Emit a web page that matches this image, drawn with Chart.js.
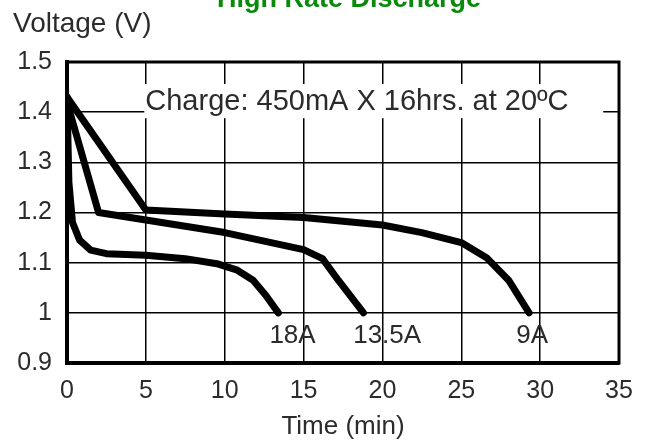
<!DOCTYPE html>
<html>
<head>
<meta charset="utf-8">
<script src="https://cdn.jsdelivr.net/npm/chart.js@4.4.1/dist/chart.umd.min.js"></script>
<style>
html, body { margin: 0; padding: 0; background: #fff; }
#wrap { width: 650px; height: 445px; position: relative; }
</style>
</head>
<body>
<div id="wrap"><canvas id="dischargeChart"></canvas></div>
<script>
// discharge curves (time in min, voltage in V)
const time18 = [0, 0.12, 0.35, 0.8, 1.5, 2.5, 5, 7.5, 9.5, 10.8, 11.8, 12.6, 13.4];
const volt18 = [1.43, 1.26, 1.18, 1.145, 1.125, 1.118, 1.115, 1.108, 1.098, 1.085, 1.065, 1.035, 1.0];
const time135 = [0, 1, 2, 5, 10, 15, 16.2, 17.2, 18.8];
const volt135 = [1.42, 1.31, 1.2, 1.185, 1.16, 1.126, 1.108, 1.065, 1.0];
const time9 = [0, 5, 10, 15, 20, 22.5, 25, 26.6, 28, 29.3];
const volt9 = [1.43, 1.205, 1.197, 1.19, 1.175, 1.16, 1.14, 1.11, 1.065, 1.0];

const xTicks = [0, 5, 10, 15, 20, 25, 30, 35];
const yTicks = [0.9, 1, 1.1, 1.2, 1.3, 1.4, 1.5];

const curveNames = ['18A', '13.5A', '9A'];
const nameTimes = [14.3, 20.3, 29.5];
const nameVolt = 0.954;

const chartTitle = 'High Rate Discharge';
const yTitle = 'Voltage (V)';
const xTitle = 'Time (min)';
const note = 'Charge: 450mA X 16hrs. at 20\u00BAC';

const FONT = '"Liberation Sans", Arial, sans-serif';
const TXT = '#2b2b2b';

function pts(ts, vs) {
    return ts.map((t, i) => ({x: t, y: vs[i]}));
}

function curve(ts, vs) {
    return {
        data: pts(ts, vs),
        borderColor: '#000',
        borderWidth: 7,
        borderCapStyle: 'round',
        borderJoinStyle: 'round',
        pointRadius: 0,
        tension: 0,
        fill: false
    };
}

const extras = {
    id: 'extras',
    beforeDatasetsDraw(chart) {
        const {ctx, chartArea: a, scales: {x, y}} = chart;
        ctx.save();
        // white box behind the charge note
        const bl = x.getPixelForValue(4.9), br = x.getPixelForValue(34);
        const bt = y.getPixelForValue(1.456), bb = y.getPixelForValue(1.388);
        ctx.fillStyle = '#fff';
        ctx.fillRect(bl, bt, br - bl, bb - bt);
        ctx.fillStyle = TXT;
        ctx.font = '29px ' + FONT;
        ctx.textBaseline = 'middle';
        ctx.textAlign = 'left';
        ctx.fillText(note, bl + 1, y.getPixelForValue(1.42));
        // frame
        ctx.strokeStyle = '#000';
        ctx.lineWidth = 3;
        ctx.strokeRect(a.left, a.top, a.right - a.left, a.bottom - a.top);
        ctx.restore();
    },
    afterDraw(chart) {
        const {ctx, scales: {x, y}} = chart;
        ctx.save();
        ctx.fillStyle = TXT;
        ctx.font = '26px ' + FONT;
        ctx.textAlign = 'center';
        ctx.textBaseline = 'middle';
        curveNames.forEach((n, i) => {
            ctx.fillText(n, x.getPixelForValue(nameTimes[i]), y.getPixelForValue(nameVolt));
        });
        ctx.textAlign = 'left';
        ctx.textBaseline = 'alphabetic';
        ctx.font = '28px ' + FONT;
        ctx.fillText(yTitle, 13, 32);
        ctx.fillStyle = '#0a8a0a';
        ctx.font = 'bold 27px ' + FONT;
        ctx.textAlign = 'center';
        ctx.fillText(chartTitle, 349, 7);
        ctx.restore();
    }
};

const ctx = document.getElementById('dischargeChart');
const dischargeChart = new Chart(ctx, {
    type: 'line',
    data: {
        datasets: [
            curve(time18, volt18),
            curve(time135, volt135),
            curve(time9, volt9)
        ]
    },
    options: {
        responsive: true,
        maintainAspectRatio: false,
        animation: false,
        layout: {padding: {top: 62, right: 31, left: 0, bottom: 0}},
        plugins: {
            legend: {display: false},
            tooltip: {enabled: false}
        },
        scales: {
            x: {
                type: 'linear',
                min: 0,
                max: 35,
                afterBuildTicks: s => { s.ticks = xTicks.map(v => ({value: v})); },
                afterFit: s => { s.height = 82; },
                grid: {color: '#000', lineWidth: 1.5, drawTicks: false},
                border: {color: '#000', width: 4},
                ticks: {color: TXT, font: {family: FONT, size: 25}, padding: 13, maxRotation: 0},
                title: {display: true, text: xTitle, color: TXT, font: {family: FONT, size: 26}, padding: {top: 0, bottom: 3}}
            },
            y: {
                type: 'linear',
                min: 0.9,
                max: 1.5,
                afterBuildTicks: s => { s.ticks = yTicks.map(v => ({value: v})); },
                afterFit: s => { s.width = 67; },
                grid: {color: '#000', lineWidth: 1.5, drawTicks: false},
                border: {color: '#000', width: 4},
                ticks: {color: TXT, font: {family: FONT, size: 25}, padding: 15,
                    callback: v => String(Math.round(v * 10) / 10)}
            }
        }
    },
    plugins: [extras]
});
</script>
</body>
</html>
